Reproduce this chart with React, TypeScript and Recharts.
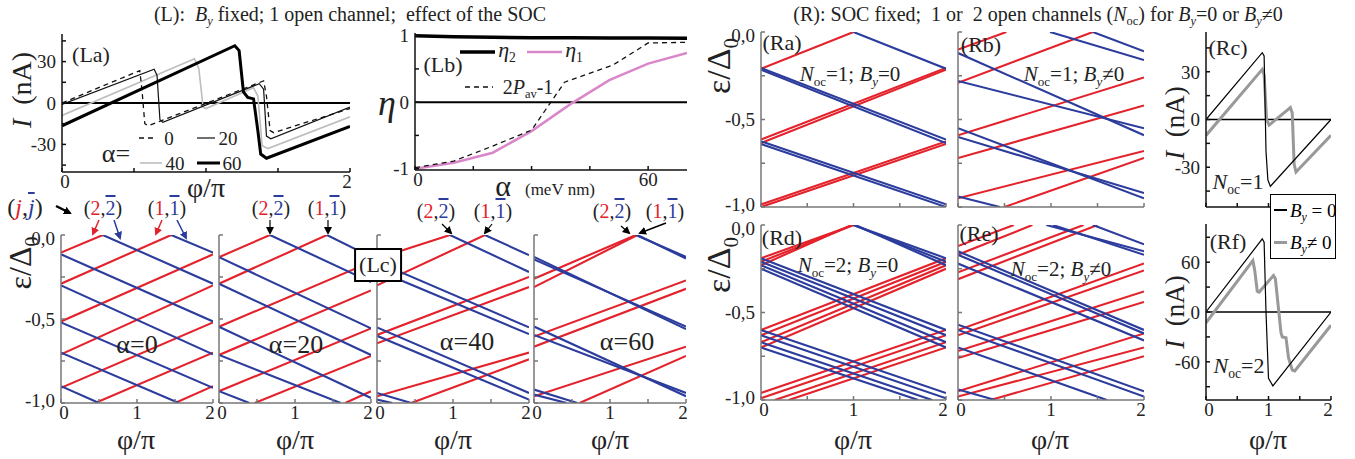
import React from "react";
import { LineChart, Line, XAxis, YAxis, ReferenceLine } from "recharts";

const FONT = '"Liberation Serif", "Times New Roman", "DejaVu Serif", serif';
const RED = "#e3222b";
const BLUE = "#2c3c9c";
const PINK = "#d987c9";
const GREY = "#777";

// ---------- data ----------
// (La) current vs phi/pi for alpha = 0, 20, 40, 60  ([phi/pi, I nA])
const laA0 = [[0, 0], [0.54, 23.5], [0.555, 10], [0.575, -15], [0.6, -16.5], [1.4, 16], [1.42, 5], [1.445, -20], [1.47, -21.5], [2, -4]];
const laA20 = [[0, -1], [0.64, 24.5], [0.66, 20], [0.68, -12], [0.7, -14], [1.37, 14], [1.4, 10], [1.42, -24], [1.45, -26], [2, -3]];
const laA40 = [[0, -9], [0.92, 32], [0.95, 25], [0.98, -3], [1.0, -4], [1.33, 11], [1.36, 5], [1.39, -31], [1.43, -33], [2, -10]];
const laA60 = [[0, -16.5], [1.2, 41.5], [1.23, 38], [1.26, 8], [1.29, 4], [1.33, 3], [1.36, -20], [1.38, -37], [1.42, -40], [2, -17]];

// (Lb) eta vs alpha (meV nm)
const lbAlpha = [0, 10, 20, 30, 40, 50, 60, 70];
const eta1 = [-1, -0.91, -0.76, -0.435, -0.03, 0.33, 0.58, 0.74];
const eta2 = [1.0, 0.985, 0.975, 0.97, 0.97, 0.965, 0.965, 0.96];
const pavAlpha = [0, 10, 20, 30, 38.5, 51, 60, 70];
const pavValue = [-0.985, -0.885, -0.66, -0.42, 0.3, 0.56, 0.89, 0.9];

// spectra: segments [phi0, eps0, phi1, eps1]
type Seg = [number, number, number, number];
const lc0Red: Seg[] = [[0, -0.105, 0.55, 0], [0, -0.29, 1.45, 0], [0, -0.515, 2, -0.115], [0, -0.71, 2, -0.3], [0, -0.91, 2, -0.52], [0.45, -1, 2, -0.7], [1.5, -1, 2, -0.9]];
const lc0Blue: Seg[] = [[1.45, 0, 2, -0.105], [0.55, 0, 2, -0.29], [0, -0.115, 2, -0.515], [0, -0.3, 2, -0.71], [0, -0.52, 2, -0.91], [0, -0.7, 1.55, -1], [0, -0.9, 0.5, -1]];
const lc20Red: Seg[] = [[0, -0.132, 0.67, 0], [0, -0.29, 1.42, 0], [0, -0.546, 2, -0.16], [0, -0.714, 2, -0.33], [0, -0.93, 2, -0.556], [0.47, -1, 2, -0.72], [1.66, -1, 2, -0.93]];
const lc20Blue: Seg[] = [[1.42, 0, 2, -0.13], [0.67, 0, 2, -0.28], [0, -0.132, 2, -0.556], [0, -0.29, 2, -0.714], [0, -0.546, 2, -0.97], [0, -0.714, 1.6, -1], [0, -0.93, 0.4, -1]];
const lc40Red: Seg[] = [[0, -0.14, 0.96, 0], [0, -0.3, 1.42, 0], [0, -0.595, 2, -0.25], [0, -0.645, 2, -0.31], [0, -0.96, 2, -0.7], [0.45, -1, 2, -0.74]];
const lc40Blue: Seg[] = [[0.96, 0, 2, -0.22], [1.42, 0, 2, -0.12], [0, -0.16, 2, -0.55], [0, -0.21, 2, -0.59], [0, -0.55, 2, -0.94], [0, -0.6, 2, -0.98], [0, -0.94, 0.45, -1], [0, -0.98, 0.2, -1]];
const lc60Red: Seg[] = [[0, -0.26, 1.34, 0], [0, -0.31, 1.36, 0], [0, -0.605, 2, -0.27], [0, -0.665, 2, -0.32], [0, -0.96, 2, -0.665], [0.6, -1, 2, -0.72]];
const lc60Blue: Seg[] = [[1.34, 0, 2, -0.13], [1.36, 0, 2, -0.14], [0, -0.13, 2, -0.56], [0, -0.145, 2, -0.545], [0, -0.545, 2, -0.96], [0, -0.595, 2, -0.94], [0, -0.92, 0.57, -1], [0, -0.95, 0.43, -1]];
const raRed: Seg[] = [[0, -0.21, 1, 0], [0, -0.615, 2, -0.205], [0, -0.635, 2, -0.215], [0, -0.985, 2, -0.625], [0, -1.0, 2, -0.64]];
const raBlue: Seg[] = [[1, 0, 2, -0.21], [0, -0.205, 2, -0.615], [0, -0.215, 2, -0.635], [0, -0.625, 2, -0.985], [0, -0.64, 2, -1.0]];
const rbRed: Seg[] = [[0, -0.1, 0.52, 0], [0, -0.29, 1.45, 0], [0, -0.59, 2, -0.26], [0, -0.72, 2, -0.42], [0, -0.95, 2, -0.68], [0.5, -1, 2, -0.72]];
const rbBlue: Seg[] = [[0.99, 0, 2, -0.16], [1.45, 0, 2, -0.11], [0, -0.12, 2, -0.59], [0, -0.28, 2, -0.55], [0, -0.55, 2, -0.95], [0, -0.6, 2, -0.92], [0, -0.94, 0.45, -1]];
const rdRed: Seg[] = [[0, -0.19, 1, 0], [0, -0.21, 1, 0], [0, -0.23, 0.98, 0], [0, -0.6, 2, -0.19], [0, -0.63, 2, -0.21], [0, -0.67, 2, -0.23], [0, -0.7, 2, -0.25], [0, -0.96, 2, -0.6], [0, -0.99, 2, -0.63], [0.15, -1, 2, -0.67], [0.3, -1, 2, -0.7]];
const rdBlue: Seg[] = [[1, 0, 2, -0.19], [1, 0, 2, -0.21], [1.02, 0, 2, -0.23], [0, -0.19, 2, -0.6], [0, -0.21, 2, -0.63], [0, -0.23, 2, -0.67], [0, -0.25, 2, -0.7], [0, -0.6, 2, -0.96], [0, -0.63, 2, -0.99], [0, -0.67, 1.85, -1], [0, -0.7, 1.7, -1]];
const reRed: Seg[] = [[0, -0.12, 0.6, 0], [0, -0.17, 0.8, 0], [0, -0.27, 1.35, 0], [0, -0.31, 1.5, 0], [0, -0.6, 2, -0.22], [0, -0.63, 2, -0.26], [0, -0.72, 2, -0.38], [0, -0.76, 2, -0.44], [0, -0.95, 2, -0.62], [0, -0.98, 2, -0.7], [0.35, -1, 2, -0.75]];
const reBlue: Seg[] = [[0.95, 0, 2, -0.15], [1.02, 0, 2, -0.17], [1.45, 0, 2, -0.11], [0, -0.15, 2, -0.6], [0, -0.17, 2, -0.62], [0, -0.22, 2, -0.66], [0, -0.57, 2, -0.95], [0, -0.6, 2, -0.98], [0, -0.7, 1.6, -1], [0, -0.94, 0.4, -1]];

// (Rc), (Rf) current, By = 0 and By != 0
const rcBy0 = [[0, 0], [0.9, 42], [0.93, 40], [0.96, -20], [0.99, -38], [1.03, -42], [2, 0]];
const rcBy1 = [[0, -10], [0.9, 31.5], [0.93, 28], [0.97, 0], [1.01, -3.5], [1.35, 7.5], [1.38, 4], [1.41, -28], [1.44, -33], [2, -10]];
const rfBy0 = [[0, 0], [0.9, 88], [0.93, 84], [0.96, 0], [1.0, -80], [1.07, -89], [2, 0]];
const rfBy1 = [[0, -13], [0.75, 62], [0.78, 50], [0.82, 25], [0.85, 24], [1.08, 44], [1.11, 40], [1.2, -25], [1.22, -30], [1.28, -31], [1.32, -55], [1.38, -70], [1.42, -71], [2, -16]];

const phiTicks = [0, 0.5, 1, 1.5, 2];
const epsTicks = [0, -0.25, -0.5, -0.75, -1];
const epsLabels: Record<string, string> = { "0": "0,0", "-0.5": "-0,5", "-1": "-1,0" };

// ---------- helpers ----------
const seg = (s: Seg) => [{ x: s[0], y: s[1] }, { x: s[2], y: s[3] }];
const pts = (a: number[][]) => a.map(([x, y]) => ({ x, y }));
const zip = (xs: number[], ys: number[]) => xs.map((x, i) => ({ x, y: ys[i] }));

type Rect = { x: number; y: number; w: number; h: number };
const YW = 48, XH = 26, M = 14;
const tickStyle = { fontSize: 19, fontFamily: FONT, fill: "#222" };

// x tick renderer: only the listed values get a label; 0 and 2 nudged apart
const xTick = (shown: number[]) => (p: any) => {
  const v = p.payload.value;
  if (!shown.includes(v)) return <g />;
  const dx = v === 0 ? 3 : v === 2 ? -3 : 0;
  return (
    <text x={p.x + dx} y={p.y} dy="0.71em" textAnchor="middle" fontSize={19} fontFamily={FONT} fill="#222">
      {v}
    </text>
  );
};

// epsilon tick renderer: top/bottom labels nudged inward so stacked panels don't collide
const epsTick = (show: boolean) => (p: any) => {
  const v = p.payload.value;
  const label = show ? epsLabels[String(v)] : undefined;
  if (!label) return <g />;
  const dy = v === 0 ? 3 : v === -1 ? -3 : 0;
  return (
    <text x={p.x} y={p.y + dy} dy="0.355em" textAnchor="end" fontSize={19} fontFamily={FONT} fill="#222">
      {label}
    </text>
  );
};

function axes(xDomain: number[], yDomain: number[], xTicks: number[], yTicks: number[], tick: any, yTick: any, color: string) {
  const line = { stroke: color, strokeWidth: 1.5 };
  return [
    <XAxis key="xb" xAxisId="b" type="number" dataKey="x" domain={xDomain} ticks={xTicks} interval={0} allowDataOverflow height={XH} axisLine={line} tickLine={line} tickSize={-4} tickMargin={7} tick={tick} />,
    <XAxis key="xt" xAxisId="t" orientation="top" type="number" dataKey="x" domain={xDomain} ticks={xTicks} interval={0} allowDataOverflow height={0} axisLine={line} tickLine={line} tickSize={-4} tick={false} />,
    <YAxis key="yl" yAxisId="l" type="number" domain={yDomain} ticks={yTicks} interval={0} allowDataOverflow width={YW} axisLine={line} tickLine={line} tickSize={-4} tickMargin={10} tick={yTick} />,
    <YAxis key="yr" yAxisId="r" orientation="right" type="number" domain={yDomain} ticks={yTicks} interval={0} allowDataOverflow width={0} axisLine={line} tickLine={line} tickSize={-4} tick={false} />,
  ];
}

// plain y tick labels for the current / eta panels
const yTickEvery = (step: number) => (p: any) => {
  const v = p.payload.value;
  if (Math.abs(v / step - Math.round(v / step)) > 1e-9) return <g />;
  return (
    <text x={p.x} y={p.y} dy="0.355em" textAnchor="end" fontSize={19} fontFamily={FONT} fill="#222">
      {v}
    </text>
  );
};

function Box({ r, children }: { r: Rect; children: React.ReactNode }) {
  return (
    <div style={{ position: "absolute", left: r.x - YW - M, top: r.y - M }}>
      <LineChart width={YW + r.w + 2 * M} height={r.h + XH + 2 * M} margin={{ top: M, right: M, bottom: M, left: M }}>
        {children}
      </LineChart>
    </div>
  );
}

const segLines = (list: Seg[], color: string, key: string) =>
  list.map((s, i) => (
    <Line key={key + i} xAxisId="b" yAxisId="l" data={seg(s)} dataKey="y" stroke={color} strokeWidth={2.1} dot={false} isAnimationActive={false} />
  ));

function Spectrum({ r, red, blue, showX, showY }: { r: Rect; red: Seg[]; blue: Seg[]; showX: boolean; showY: boolean }) {
  return (
    <Box r={r}>
      {axes([0, 2], [-1, 0], phiTicks, epsTicks, xTick(showX ? [0, 1, 2] : []), epsTick(showY), GREY)}
      {segLines(red, RED, "r")}
      {segLines(blue, BLUE, "b")}
    </Box>
  );
}

const curve = (data: number[][], color: string, width: number, key: string, dash?: string) => (
  <Line key={key} xAxisId="b" yAxisId="l" data={pts(data)} dataKey="y" stroke={color} strokeWidth={width} strokeDasharray={dash} dot={false} isAnimationActive={false} />
);

function T({ x, y, size = 20, children, color = "#222", rotate = false, style }: { x: number; y: number; size?: number; children: React.ReactNode; color?: string; rotate?: boolean; style?: React.CSSProperties }) {
  return (
    <div style={{ position: "absolute", left: x, top: y, transform: `translate(-50%, -50%)${rotate ? " rotate(-90deg)" : ""}`, fontSize: size, fontFamily: FONT, color, whiteSpace: "nowrap", lineHeight: 1, ...style }}>
      {children}
    </div>
  );
}
const Sub = ({ children }: { children: React.ReactNode }) => <span style={{ fontSize: "0.62em", verticalAlign: "-0.35em" }}>{children}</span>;
const Bar = ({ children }: { children: React.ReactNode }) => <span style={{ textDecoration: "overline" }}>{children}</span>;
const Pair = ({ n }: { n: string }) => (
  <span>(<span style={{ color: RED }}>{n}</span>,<span style={{ color: BLUE }}><Bar>{n}</Bar></span>)</span>
);
const EpsLabel = () => <span>ε/Δ<Sub>0</Sub></span>;
const ILabel = () => <span><i>I</i>&nbsp;&nbsp;(nA)</span>;

// ---------- layout ----------
const rLa: Rect = { x: 62, y: 34, w: 288, h: 138 };
const rLb: Rect = { x: 415, y: 33, w: 272, h: 137 };
const lcY = 235, lcH = 168, lcW = 152;
const rLc = [61, 219, 377, 534].map((x) => ({ x, y: lcY, w: lcW, h: lcH }));
const rRa: Rect = { x: 761, y: 32, w: 185, h: 175 };
const rRb: Rect = { x: 958, y: 32, w: 186, h: 175 };
const rRd: Rect = { x: 761, y: 225, w: 185, h: 175 };
const rRe: Rect = { x: 958, y: 225, w: 186, h: 175 };
const rRc: Rect = { x: 1206, y: 32, w: 125, h: 175 };
const rRf: Rect = { x: 1206, y: 224, w: 125, h: 176 };

export default function App() {
  return (
    <div style={{ position: "absolute", left: 0, top: 0, width: 1355, height: 459, background: "#fff", overflow: "hidden" }}>
      {/* (La) */}
      <Box r={rLa}>
        {axes([0, 2], [-50, 50], phiTicks, [-45, -30, -15, 0, 15, 30, 45], xTick([0, 2]), yTickEvery(30), "#111")}
        <ReferenceLine xAxisId="b" yAxisId="l" y={0} stroke="#000" strokeWidth={2} />
        {curve(laA40, "#bdbdbd", 1.6, "a40")}
        {curve(laA0, "#111", 1.3, "a0", "5 4")}
        {curve(laA20, "#111", 1.2, "a20")}
        {curve(laA60, "#000", 3, "a60")}
      </Box>

      {/* (Lb) */}
      <Box r={rLb}>
        {axes([0, 70], [-1.02, 1.04], [0, 15, 30, 45, 60], [-1, -0.5, 0, 0.5, 1], xTick([0, 60]), yTickEvery(1), "#111")}
        <ReferenceLine xAxisId="b" yAxisId="l" y={0} stroke="#000" strokeWidth={2} />
        <Line xAxisId="b" yAxisId="l" data={zip(lbAlpha, eta1)} dataKey="y" stroke={PINK} strokeWidth={2.5} dot={false} isAnimationActive={false} />
        <Line xAxisId="b" yAxisId="l" data={zip(pavAlpha, pavValue)} dataKey="y" stroke="#111" strokeWidth={1.3} strokeDasharray="5 4" dot={false} isAnimationActive={false} />
        <Line xAxisId="b" yAxisId="l" data={zip(lbAlpha, eta2)} dataKey="y" stroke="#000" strokeWidth={3.5} dot={false} isAnimationActive={false} />
      </Box>

      {/* (Lc) */}
      <Spectrum r={rLc[0]} red={lc0Red} blue={lc0Blue} showX showY />
      <Spectrum r={rLc[1]} red={lc20Red} blue={lc20Blue} showX showY={false} />
      <Spectrum r={rLc[2]} red={lc40Red} blue={lc40Blue} showX showY={false} />
      <Spectrum r={rLc[3]} red={lc60Red} blue={lc60Blue} showX showY={false} />

      {/* (R) spectra */}
      <Spectrum r={rRa} red={raRed} blue={raBlue} showX={false} showY />
      <Spectrum r={rRb} red={rbRed} blue={rbBlue} showX={false} showY={false} />
      <Spectrum r={rRd} red={rdRed} blue={rdBlue} showX showY />
      <Spectrum r={rRe} red={reRed} blue={reBlue} showX showY={false} />

      {/* (Rc) */}
      <Box r={rRc}>
        {axes([0, 2], [-55, 55], phiTicks, [-45, -30, -15, 0, 15, 30, 45], xTick([]), yTickEvery(30), "#111")}
        <ReferenceLine xAxisId="b" yAxisId="l" y={0} stroke="#000" strokeWidth={1.5} />
        {curve(rcBy1, "#999", 3, "c1")}
        {curve(rcBy0, "#000", 1.2, "c0")}
      </Box>
      {/* (Rf) */}
      <Box r={rRf}>
        {axes([0, 2], [-106, 106], phiTicks, [-90, -60, -30, 0, 30, 60, 90], xTick([0, 1, 2]), yTickEvery(60), "#111")}
        <ReferenceLine xAxisId="b" yAxisId="l" y={0} stroke="#000" strokeWidth={1.5} />
        {curve(rfBy1, "#999", 3, "f1")}
        {curve(rfBy0, "#000", 1.2, "f0")}
      </Box>

      {/* arrows and legend samples */}
      <svg width={1355} height={459} style={{ position: "absolute", left: 0, top: 0, pointerEvents: "none" }}>
        <defs>
          {[["k", "#000"], ["r", RED], ["b", BLUE]].map(([id, c]) => (
            <marker key={id} id={"ah" + id} markerWidth="8" markerHeight="8" refX="6" refY="4" orient="auto" markerUnits="userSpaceOnUse">
              <path d="M0,0 L8,4 L0,8 Z" fill={c} />
            </marker>
          ))}
        </defs>
        <line x1={56} y1={206} x2={70} y2={213} stroke="#000" strokeWidth={2.5} markerEnd="url(#ahk)" />
        <line x1={99} y1={220} x2={93} y2={234} stroke={RED} strokeWidth={1.5} markerEnd="url(#ahr)" />
        <line x1={114} y1={220} x2={120} y2={238} stroke={BLUE} strokeWidth={1.5} markerEnd="url(#ahb)" />
        <line x1={162} y1={220} x2={156} y2={234} stroke={RED} strokeWidth={1.5} markerEnd="url(#ahr)" />
        <line x1={177} y1={220} x2={186} y2={238} stroke={BLUE} strokeWidth={1.5} markerEnd="url(#ahb)" />
        <line x1={270} y1={220} x2={270} y2={233} stroke="#000" strokeWidth={1.2} markerEnd="url(#ahk)" />
        <line x1={328} y1={220} x2={328} y2={233} stroke="#000" strokeWidth={1.2} markerEnd="url(#ahk)" />
        <line x1={442} y1={224} x2={451} y2={233} stroke="#000" strokeWidth={1.2} markerEnd="url(#ahk)" />
        <line x1={492} y1={224} x2={485} y2={233} stroke="#000" strokeWidth={1.2} markerEnd="url(#ahk)" />
        <line x1={621} y1={226} x2={629} y2={233} stroke="#000" strokeWidth={1.2} markerEnd="url(#ahk)" />
        <line x1={666} y1={223} x2={640} y2={233} stroke="#000" strokeWidth={1.5} markerEnd="url(#ahk)" />
        {/* La legend samples */}
        <line x1={139} y1={138} x2={157} y2={138} stroke="#111" strokeWidth={1.3} strokeDasharray="5 4" />
        <line x1={197} y1={138} x2={215} y2={138} stroke="#111" strokeWidth={1.2} />
        <line x1={140} y1={163} x2={162} y2={163} stroke="#bdbdbd" strokeWidth={1.6} />
        <line x1={197} y1={163} x2={220} y2={163} stroke="#000" strokeWidth={3} />
        {/* Lb legend samples */}
        <line x1={460} y1={52} x2={495} y2={52} stroke="#000" strokeWidth={3.5} />
        <line x1={527} y1={52} x2={562} y2={52} stroke={PINK} strokeWidth={2.5} />
        <line x1={465} y1={87} x2={493} y2={87} stroke="#111" strokeWidth={1.3} strokeDasharray="5 4" />
      </svg>

      {/* titles */}
      <T x={350} y={16} size={20}>(L):&nbsp; <i>B</i><Sub><i>y</i></Sub> fixed; 1 open channel;&nbsp; effect of the SOC</T>
      <T x={1038} y={16} size={20}>(R): SOC fixed;&nbsp; 1 or&nbsp; 2 open channels (<i>N</i><Sub>oc</Sub>) for <i>B</i><Sub><i>y</i></Sub>=0 or <i>B</i><Sub><i>y</i></Sub>≠0</T>

      {/* La texts */}
      <T x={22} y={90} size={28} rotate><ILabel /></T>
      <T x={91} y={55} size={22}>(La)</T>
      <T x={206} y={188} size={28}>φ/π</T>
      <T x={169} y={138} size={19}>0</T>
      <T x={228} y={138} size={19}>20</T>
      <T x={116} y={154} size={26}>α=</T>
      <T x={175} y={163} size={19}>40</T>
      <T x={232} y={163} size={19}>60</T>

      {/* Lb texts */}
      <T x={387} y={103} size={36}><i>η</i></T>
      <T x={443} y={65} size={22}>(Lb)</T>
      <T x={507} y={52} size={22}><i>η</i><Sub>2</Sub></T>
      <T x={574} y={52} size={22}><i>η</i><Sub>1</Sub></T>
      <T x={528} y={89} size={20}>2<i>P</i><Sub>av</Sub>-1</T>
      <T x={503} y={186} size={30}>α</T>
      <T x={560} y={189} size={17}>(meV nm)</T>

      {/* Lc texts */}
      <T x={25} y={207} size={24}>(<i style={{ color: RED }}>j</i>,<i style={{ color: BLUE }}><Bar>j</Bar></i>)</T>
      <T x={103} y={208} size={20}><Pair n="2" /></T>
      <T x={167} y={208} size={20}><Pair n="1" /></T>
      <T x={271} y={208} size={20}><Pair n="2" /></T>
      <T x={327} y={208} size={20}><Pair n="1" /></T>
      <T x={436} y={211} size={20}><Pair n="2" /></T>
      <T x={493} y={211} size={20}><Pair n="1" /></T>
      <T x={612} y={211} size={20}><Pair n="2" /></T>
      <T x={665} y={211} size={20}><Pair n="1" /></T>
      <T x={23} y={263} size={32} rotate><EpsLabel /></T>
      <T x={378} y={265} size={22} style={{ border: "2px solid #000", background: "#fff", padding: "4px 3px" }}>(Lc)</T>
      <T x={137} y={345} size={26}>α=0</T>
      <T x={296} y={345} size={26}>α=20</T>
      <T x={467} y={342} size={26}>α=40</T>
      <T x={627} y={342} size={26}>α=60</T>
      {[136, 295, 453, 610].map((x) => <T key={x} x={x} y={440} size={28}>φ/π</T>)}

      {/* R texts */}
      <T x={722} y={66} size={34} rotate><EpsLabel /></T>
      <T x={722} y={265} size={34} rotate><EpsLabel /></T>
      <T x={782} y={43} size={22}>(Ra)</T>
      <T x={981} y={45} size={22}>(Rb)</T>
      <T x={782} y={238} size={22}>(Rd)</T>
      <T x={979} y={234} size={22}>(Re)</T>
      <T x={850} y={76} size={21}><i>N</i><Sub>oc</Sub>=1; <i>B</i><Sub><i>y</i></Sub>=0</T>
      <T x={1074} y={76} size={21}><i>N</i><Sub>oc</Sub>=1; <i>B</i><Sub><i>y</i></Sub>≠0</T>
      <T x={848} y={267} size={21}><i>N</i><Sub>oc</Sub>=2; <i>B</i><Sub><i>y</i></Sub>=0</T>
      <T x={1061} y={271} size={21}><i>N</i><Sub>oc</Sub>=2; <i>B</i><Sub><i>y</i></Sub>≠0</T>
      <T x={853} y={440} size={28}>φ/π</T>
      <T x={1050} y={440} size={28}>φ/π</T>
      <T x={1268} y={440} size={28}>φ/π</T>
      <T x={1175} y={123} size={27} rotate><ILabel /></T>
      <T x={1175} y={312} size={27} rotate><ILabel /></T>
      <T x={1228} y={48} size={22}>(Rc)</T>
      <T x={1238} y={184} size={22}><i>N</i><Sub>oc</Sub>=1</T>
      <T x={1228} y={242} size={22}>(Rf)</T>
      <T x={1239} y={368} size={22}><i>N</i><Sub>oc</Sub>=2</T>

      {/* Rc/Rf legend */}
      <div style={{ position: "absolute", left: 1270, top: 194, width: 64, height: 63, border: "1px solid #000", background: "#fff", fontFamily: FONT, fontSize: 19 }}>
        <div style={{ position: "absolute", left: 3, top: 14, width: 13, height: 1.5, background: "#000" }} />
        <div style={{ position: "absolute", left: 19, top: 5, whiteSpace: "nowrap" }}><i>B</i><Sub><i>y</i></Sub> = 0</div>
        <div style={{ position: "absolute", left: 3, top: 46, width: 13, height: 3, background: "#999" }} />
        <div style={{ position: "absolute", left: 19, top: 37, whiteSpace: "nowrap" }}><i>B</i><Sub><i>y</i></Sub>≠ 0</div>
      </div>
    </div>
  );
}
